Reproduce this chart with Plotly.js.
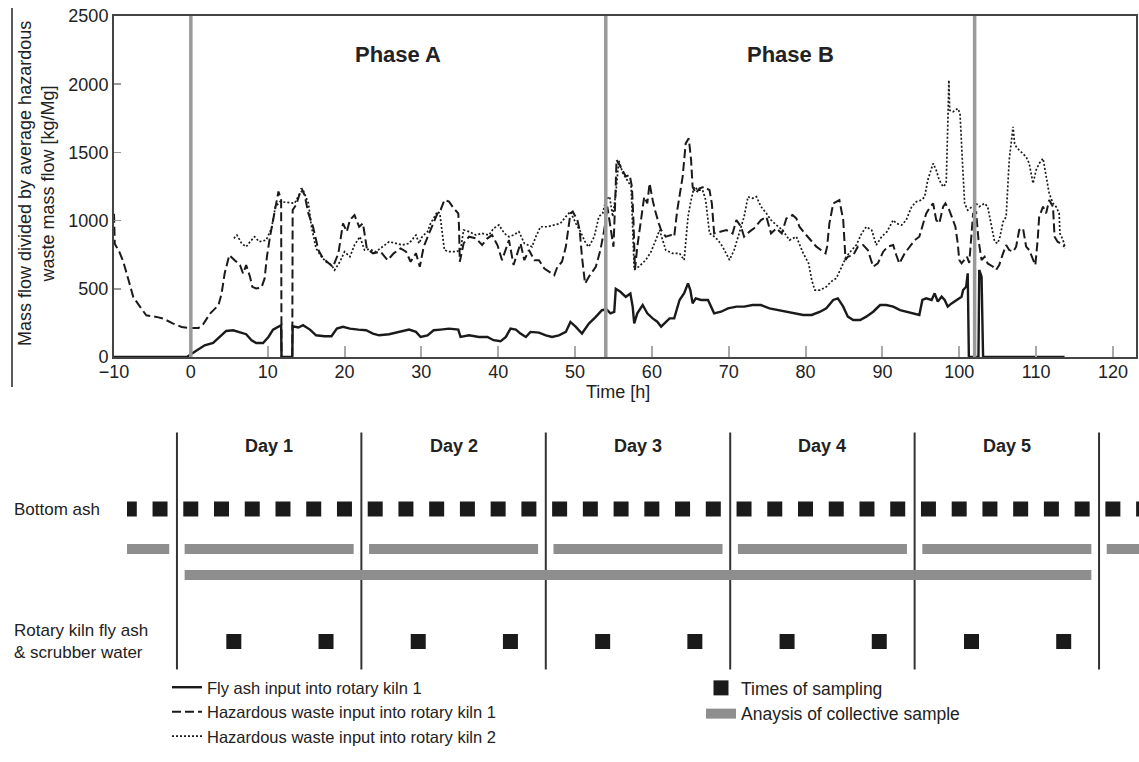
<!DOCTYPE html>
<html>
<head>
<meta charset="utf-8">
<script src="https://cdn.plot.ly/plotly-3.0.1.min.js"></script>
<style>html,body{margin:0;padding:0;background:#fff;}#chart{width:1139px;height:762px;}</style>
</head>
<body>
<div id="chart"></div>
<script>
// ---------- Top panel data: time [h] and mass flow ratio [kg/Mg] ----------
const tFlyAsh = [-10,-0.5,0,1.0,1.8,2.9,3.8,4.6,5.5,6.4,7.2,7.9,8.5,9.4,10.1,10.7,11.4,11.75,11.8,13.2,13.25,14.0,14.6,15.5,16.3,17.4,18.3,19.0,19.8,20.7,21.8,22.8,23.7,24.5,25.8,27.1,28.4,29.3,29.9,30.8,31.6,32.5,33.6,34.8,35.1,36.2,37.5,38.6,39.4,40.3,41.0,41.6,42.3,42.9,43.6,44.2,45.3,46.2,47.0,47.9,48.8,49.4,50.1,50.9,51.8,52.7,53.5,54.1,54.6,55.1,55.3,55.9,56.6,57.2,57.5,57.7,58.1,58.8,59.4,60.1,60.7,61.2,61.6,62.3,62.9,63.6,64.2,64.7,65.0,65.3,65.7,66.4,67.3,67.7,68.1,69.0,69.9,71.0,72.0,73.1,74.2,75.3,76.4,77.5,78.6,79.7,80.8,81.9,82.7,83.6,84.2,84.9,85.5,86.2,87.1,87.9,88.8,89.7,90.5,91.4,92.3,93.1,94.0,94.8,95.2,95.7,96.4,96.8,97.2,97.7,98.1,98.5,99.0,99.6,100.3,100.5,100.9,101.1,101.25,102.5,102.6,102.9,103.1,113.7];
const vFlyAsh = [0,0,20,54,86,103,147,191,196,179,167,123,103,103,147,201,225,233,0,0,225,216,233,201,159,152,152,208,221,208,201,196,172,159,167,184,201,184,147,159,196,201,208,201,147,159,147,147,123,115,147,208,201,172,147,184,179,159,147,159,184,257,221,172,245,294,343,350,320,330,500,478,441,465,369,247,320,381,320,283,259,222,247,283,283,418,467,540,491,393,430,418,418,369,320,332,357,369,369,381,381,357,344,332,320,308,308,332,357,418,430,369,296,271,271,296,332,381,381,369,344,332,320,308,418,430,418,467,406,442,418,369,393,418,442,491,515,613,0,0,638,589,0,0];

const tWasteKiln1 = [-10,-9.9,-9.3,-8.8,-8.1,-7.5,-6.6,-5.8,-4.5,-3.6,-2.3,-1.2,-0.1,1.0,1.6,2.5,3.6,4.0,4.4,5.0,5.7,6.4,6.8,7.2,7.7,8.0,8.5,9.2,9.6,9.9,10.3,10.7,11.1,11.4,11.75,11.8,13.2,13.25,13.7,14.4,14.8,15.3,15.9,16.6,17.2,17.9,18.5,19.2,19.8,20.3,20.7,21.3,21.9,22.4,22.9,23.7,24.7,25.6,26.4,27.3,28.0,28.6,29.3,29.8,30.3,31.0,31.6,32.1,32.5,33.0,33.6,34.2,34.8,34.9,35.0,35.5,36.2,37.1,37.9,38.6,39.2,39.9,40.5,41.0,41.4,42.0,42.5,42.9,43.4,44.0,44.7,45.3,46.0,46.6,47.3,47.7,48.3,48.8,49.2,49.4,49.7,50.3,50.6,50.9,51.3,51.8,52.7,53.3,53.8,54.2,54.6,55.0,55.2,55.4,55.9,56.6,57.1,57.4,57.6,57.8,58.1,58.6,59.0,59.4,59.7,60.1,60.4,60.9,61.2,61.8,62.5,62.9,63.3,64.0,64.4,64.8,65.1,65.3,65.7,66.2,66.8,67.5,67.8,68.1,68.8,69.7,70.5,71.0,71.6,72.0,72.7,73.3,74.2,74.9,75.5,76.2,76.9,77.5,77.9,78.3,78.8,79.2,79.9,80.7,81.4,82.0,82.6,82.8,83.1,83.6,84.0,84.4,84.9,85.2,85.5,86.2,86.8,87.5,88.1,88.8,89.4,90.1,90.7,91.4,91.8,92.2,92.9,93.5,94.2,94.8,95.3,95.7,96.1,96.6,97.0,97.4,97.9,98.2,98.7,99.2,99.5,99.8,100.0,100.3,100.7,101.0,101.3,101.8,102.2,102.5,102.9,103.3,103.7,104.4,104.8,105.2,105.7,106.1,106.5,107.0,107.4,107.8,108.3,108.7,109.1,109.6,109.9,110.2,110.4,110.9,111.3,111.7,112.2,112.4,112.8,113.2,113.7];
const vWasteKiln1 = [1050,830,770,700,563,441,367,306,294,282,245,220,212,212,240,318,380,465,612,747,710,674,612,674,588,514,502,510,576,735,882,1004,1102,1213,1151,0,0,1078,1115,1237,1188,1053,955,784,723,686,661,760,980,919,1004,1041,955,980,796,760,772,710,760,796,772,698,760,661,808,906,980,1053,1078,1151,1139,1090,1053,955,698,833,882,870,821,870,894,821,710,784,857,674,760,833,710,784,710,710,649,625,600,661,698,808,955,1053,1066,1004,931,735,539,588,661,784,931,1102,955,808,1102,1446,1397,1323,1335,1250,1000,640,809,1028,1175,1126,1273,1150,1077,980,931,882,894,882,1077,1321,1566,1603,1444,1248,1200,1236,1248,1224,1126,906,919,931,906,1004,955,882,919,943,1004,1028,906,943,906,1016,1028,1041,1016,955,906,857,809,784,760,809,980,1126,1138,1150,1004,711,735,747,809,821,784,662,686,772,809,821,748,686,760,809,857,882,980,1053,1090,1126,1004,980,1102,1126,1077,1004,955,833,711,686,711,735,690,1050,1060,860,711,735,686,662,638,674,760,821,784,772,809,931,943,809,784,711,674,857,1028,1102,1053,1151,1102,882,845,833,809];

const tWasteKiln2 = [5.6,6.0,6.6,7.2,7.7,8.3,8.9,9.8,10.5,11.0,11.6,12.4,13.5,14.2,14.6,15.3,15.7,16.3,17.0,17.6,18.3,18.7,19.4,20.0,20.7,21.3,22.0,22.6,23.2,24.1,25.0,25.8,26.7,27.5,28.4,29.3,29.7,30.1,30.8,31.2,31.6,32.1,32.4,32.7,33.0,33.6,34.5,35.1,35.5,36.2,37.1,37.9,38.8,39.4,40.1,40.8,41.4,42.0,42.7,43.4,44.0,44.4,44.9,45.5,46.4,47.3,48.1,48.8,49.4,50.1,50.7,51.4,51.8,52.5,53.1,53.6,54.0,54.5,54.9,55.3,55.7,56.2,56.8,57.3,57.7,58.3,59.2,59.9,60.5,61.0,61.4,61.8,62.7,63.6,64.2,64.7,65.1,65.5,66.0,66.6,67.0,67.5,67.9,68.6,69.2,70.1,70.7,71.4,72.0,72.5,73.1,73.6,74.2,74.9,75.5,76.2,77.0,77.9,78.8,79.7,80.4,80.8,81.2,81.9,82.7,83.3,84.0,84.7,85.3,86.0,86.6,87.3,87.9,88.6,89.2,89.9,90.6,91.4,91.8,92.5,93.1,93.8,94.4,95.1,95.5,95.9,96.2,96.6,97.0,97.4,97.9,98.3,98.5,98.65,98.75,99.2,99.8,100.1,100.4,100.7,101.1,101.6,102.2,102.6,103.3,103.7,104.2,104.6,105.0,105.3,105.7,106.1,106.5,107.0,107.2,107.4,107.8,108.3,108.7,109.1,109.6,110.0,110.4,110.9,111.3,111.7,112.2,112.6,113.0,113.1,113.5,113.8];
const vWasteKiln2 = [870,894,833,808,845,882,845,857,943,1102,1139,1132,1127,1200,1225,1127,955,796,735,698,674,637,698,772,735,821,882,784,790,772,808,845,833,821,833,894,833,882,919,980,1017,1066,1053,931,784,772,772,784,931,919,894,906,894,943,968,906,882,894,919,833,821,808,882,955,955,968,980,1029,1066,980,919,833,808,882,1029,1053,1151,1176,1029,1200,1440,1350,1300,1250,640,662,711,772,857,931,857,784,760,760,711,1028,1150,1248,1224,1224,1150,906,894,857,809,711,784,906,1028,1175,1163,1175,1102,1053,1004,967,931,857,882,760,686,564,491,491,515,552,577,662,735,784,821,906,955,931,821,882,919,1004,980,967,1004,1102,1138,1151,1175,1297,1346,1419,1370,1297,1248,1273,1688,2030,1810,1798,1822,1786,1444,1126,1077,1102,1126,1102,1126,1102,955,845,833,882,992,1028,1444,1688,1566,1542,1517,1493,1468,1419,1273,1370,1419,1456,1322,1200,1126,1102,1053,906,858,797];

const phaseBounds = [0, 54, 102];
const phaseLabels = ['Phase A', 'Phase B'];
const xTicks = [-10,0,10,20,30,40,50,60,70,80,90,100,110,120];
const yTicks = [0,500,1000,1500,2000,2500];

// ---------- Bottom panel: sampling schedule (same time scale) ----------
const dayBounds = [-1.8, 22.2, 46.2, 70.2, 94.2, 118.2];
const dayLabels = ['Day 1','Day 2','Day 3','Day 4','Day 5'];
const bottomAshTimes = [-8,-4,0,4,8,12,16,20,24,28,32,36,40,44,48,52,56,60,64,68,72,76,80,84,88,92,96,100,104,108,112,116,120,124];
const flyAshTimes = [5.6,17.6,29.6,41.6,53.6,65.6,77.6,89.6,101.6,113.6];
const dailyCollectiveSpans = [[-24.8,-2.8],[-0.8,21.2],[23.2,45.2],[47.2,69.2],[71.2,93.2],[95.2,117.2],[119.2,141.2]];
const campaignCollectiveSpan = [-0.8, 117.2];

// row levels of the schematic (layout only)
const ROW = {label: 234, ash: 171, dayBar: 131, longBar: 105, fly: 38.5, lineTop: 247.5, lineBottom: 10.5};

const W = 1139, H = 762;
const px = v => v / W;
const py = v => (H - v) / H;

const FONT = 'Liberation Sans, Arial, Helvetica, sans-serif';
const INK = '#1a1a1a';
const GRAY = '#8e8e8e';

const traces = [
  {x: tFlyAsh, y: vFlyAsh, mode: 'lines', name: 'Fly ash input into rotary kiln 1',
   line: {color: INK, width: 2.4}, xaxis: 'x', yaxis: 'y', legend: 'legend'},
  {x: tWasteKiln1, y: vWasteKiln1, mode: 'lines', name: 'Hazardous waste input into rotary kiln 1',
   line: {color: INK, width: 2, dash: '9px,4px'}, xaxis: 'x', yaxis: 'y', legend: 'legend'},
  {x: tWasteKiln2, y: vWasteKiln2, mode: 'lines', name: 'Hazardous waste input into rotary kiln 2',
   line: {color: INK, width: 1.7, dash: '2px,2px'}, xaxis: 'x', yaxis: 'y', legend: 'legend'}
];

// day boundary lines
const dlx = [], dly = [];
dayBounds.forEach(d => { dlx.push(d, d, null); dly.push(ROW.lineBottom, ROW.lineTop, null); });
traces.push({x: dlx, y: dly, mode: 'lines', line: {color: '#333', width: 2}, xaxis: 'x2', yaxis: 'y2', showlegend: false, hoverinfo: 'skip'});

// daily collective sample bars
const bx = [], by = [];
dailyCollectiveSpans.forEach(s => { bx.push(s[0], s[1], null); by.push(ROW.dayBar, ROW.dayBar, null); });
traces.push({x: bx, y: by, mode: 'lines', name: 'Anaysis of collective sample', line: {color: GRAY, width: 10},
  xaxis: 'x2', yaxis: 'y2', legend: 'legend2', legendrank: 2});
traces.push({x: campaignCollectiveSpan, y: [ROW.longBar, ROW.longBar], mode: 'lines', line: {color: GRAY, width: 10},
  xaxis: 'x2', yaxis: 'y2', showlegend: false});

// sampling times
traces.push({x: bottomAshTimes, y: bottomAshTimes.map(() => ROW.ash), mode: 'markers', name: 'Times of sampling',
  marker: {symbol: 'square', size: 15, color: INK}, xaxis: 'x2', yaxis: 'y2', legend: 'legend2', legendrank: 1});
traces.push({x: flyAshTimes, y: flyAshTimes.map(() => ROW.fly), mode: 'markers',
  marker: {symbol: 'square', size: 15, color: INK}, xaxis: 'x2', yaxis: 'y2', showlegend: false});

const annotations = [];
phaseLabels.forEach((lab, i) => {
  annotations.push({x: (phaseBounds[i] + phaseBounds[i+1]) / 2, y: 2215, xref: 'x', yref: 'y',
    xanchor: 'center', yanchor: 'middle',
    text: '<b>' + lab + '</b>', showarrow: false, font: {family: FONT, size: 22, color: '#222'}});
});
dayLabels.forEach((lab, i) => {
  annotations.push({x: (dayBounds[i] + dayBounds[i+1]) / 2, y: ROW.label, xref: 'x2', yref: 'y2',
    xanchor: 'center', yanchor: 'middle',
    text: '<b>' + lab + '</b>', showarrow: false, font: {family: FONT, size: 18, color: '#222'}});
});
annotations.push({x: px(36), y: py(184), xref: 'paper', yref: 'paper', xanchor: 'center', yanchor: 'middle',
  textangle: -90, showarrow: false,
  text: 'Mass flow divided by average hazardous<br>waste mass flow [kg/Mg]', font: {family: FONT, size: 18, color: '#222'}});
annotations.push({x: px(618), y: py(392), xref: 'paper', yref: 'paper', xanchor: 'center', yanchor: 'middle',
  showarrow: false, text: 'Time [h]', font: {family: FONT, size: 18, color: '#222'}});
annotations.push({x: px(12), y: py(509), xref: 'paper', yref: 'paper', xanchor: 'left', yanchor: 'middle', showarrow: false,
  text: 'Bottom ash', font: {family: FONT, size: 17, color: '#222'}});
annotations.push({x: px(12), y: py(641), xref: 'paper', yref: 'paper', xanchor: 'left', yanchor: 'middle',
  align: 'left', showarrow: false,
  text: 'Rotary kiln fly ash<br>&amp; scrubber water', font: {family: FONT, size: 17, color: '#222'}});

const shapes = phaseBounds.map(b => ({type: 'line', xref: 'x', yref: 'y domain', x0: b, x1: b, y0: 0, y1: 1,
  line: {color: '#9a9a9a', width: 3.5}}));
shapes.push({type: 'line', xref: 'paper', yref: 'paper', x0: px(12), x1: px(12), y0: py(8), y1: py(387),
  line: {color: '#222', width: 1.5}});

const layout = {
  width: W, height: H,
  margin: {l: 0, r: 0, t: 0, b: 0},
  paper_bgcolor: '#fff', plot_bgcolor: 'rgba(0,0,0,0)',
  font: {family: FONT, color: '#222', size: 18},
  xaxis: {domain: [px(114), px(1136)], range: [-10, 123], anchor: 'y', tickvals: xTicks,
    ticks: 'inside', ticklen: 11, tickwidth: 2, tickcolor: '#aaa', ticklabelstandoff: -3,
    showline: true, linecolor: '#444', linewidth: 2, mirror: true, showgrid: false, zeroline: false,
    tickfont: {size: 18, color: '#222'}},
  yaxis: {domain: [py(357), py(16)], range: [0, 2500], anchor: 'x', tickvals: yTicks,
    ticks: 'inside', ticklen: 7, tickwidth: 1.5, tickcolor: '#999',
    showline: true, linecolor: '#444', linewidth: 2, mirror: true, showgrid: false, zeroline: false,
    tickfont: {size: 18, color: '#222'}},
  xaxis2: {domain: [px(127), 1], range: [-8.3, 123.4], anchor: 'y2', visible: false, fixedrange: true},
  yaxis2: {domain: [py(680), py(425)], range: [0, 255], anchor: 'x2', visible: false, fixedrange: true},
  legend: {x: px(167), y: py(670), xanchor: 'left', yanchor: 'top', bgcolor: 'rgba(0,0,0,0)',
    font: {family: FONT, size: 16.5, color: '#222'}, itemwidth: 30, tracegroupgap: 0},
  legend2: {x: px(701), y: py(670), xanchor: 'left', yanchor: 'top', bgcolor: 'rgba(0,0,0,0)',
    font: {family: FONT, size: 17.5, color: '#222'}, itemwidth: 30, tracegroupgap: 0},
  annotations: annotations,
  shapes: shapes,
  showlegend: true
};

Plotly.newPlot('chart', traces, layout, {displayModeBar: false, staticPlot: true});
</script>
</body>
</html>
